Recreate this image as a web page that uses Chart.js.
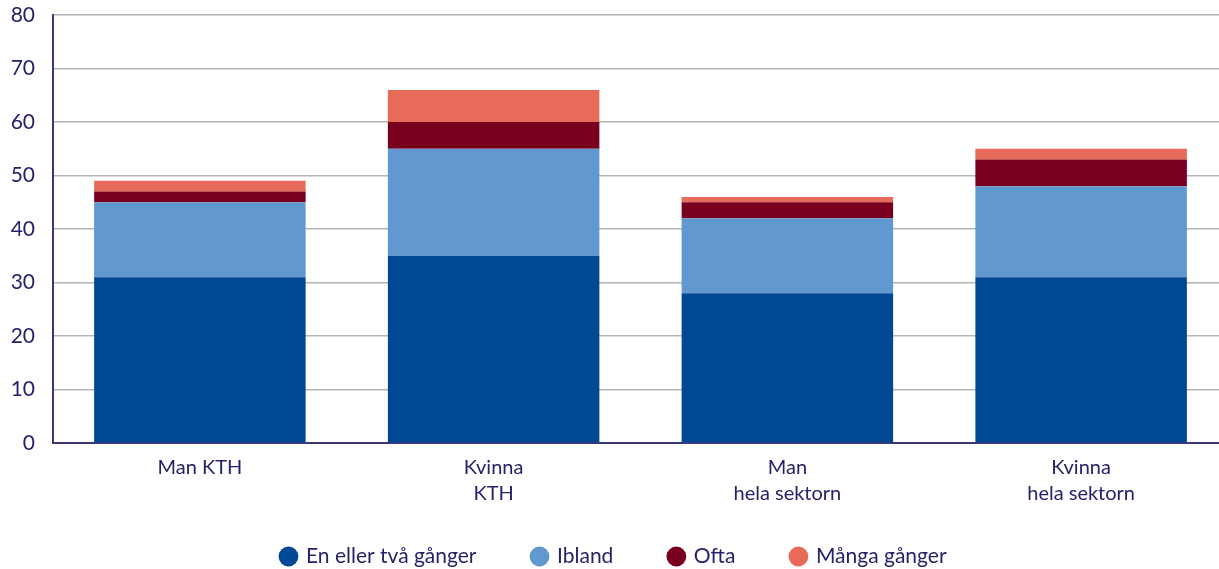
<!DOCTYPE html>
<html>
<head>
<meta charset="utf-8">
<script src="https://cdn.jsdelivr.net/npm/chart.js@4.4.1/dist/chart.umd.min.js"></script>
<style>
  html, body { margin: 0; padding: 0; background: #fff; overflow: hidden; }
  #wrap { width: 1228px; height: 569px; position: relative; }
</style>
</head>
<body>
<div id="wrap"><canvas id="chart"></canvas></div>
<script>
// Data
const categories = ["Man KTH", ["Kvinna", "KTH"], ["Man", "hela sektorn"], ["Kvinna", "hela sektorn"]];
const enEllerTva = [31, 35, 28, 31];
const ibland = [14, 20, 14, 17];
const ofta = [2, 5, 3, 5];
const mangaGanger = [2, 6, 1, 2];
const yTicks = [0, 10, 20, 30, 40, 50, 60, 70, 80];

const navy = "#25236b";
const fontFamily = "Lato, 'Open Sans', sans-serif";
const LEGEND_PAD = 56;
const LEGEND_HEIGHT = 79;

function makeSet(label, data, color) {
  return {
    label: label,
    data: data,
    backgroundColor: color,
    borderWidth: 0,
    categoryPercentage: 0.72,
    barPercentage: 1.0,
  };
}

// keep the wide item spacing without the tall legend box
const legendHeightFix = {
  id: "legendHeightFix",
  beforeInit(chart) {
    const origFit = chart.legend.fit;
    chart.legend.fit = function () {
      origFit.bind(chart.legend)();
      this.height = LEGEND_HEIGHT;
    };
  },
};

const ctx = document.getElementById("chart").getContext("2d");
new Chart(ctx, {
  type: "bar",
  data: {
    labels: categories,
    datasets: [
      makeSet("En eller två gånger", enEllerTva, "#004893"),
      makeSet("Ibland", ibland, "#6298d0"),
      makeSet("Ofta", ofta, "#78001e"),
      makeSet("Många gånger", mangaGanger, "#e86b5a"),
    ],
  },
  plugins: [legendHeightFix],
  options: {
    responsive: true,
    maintainAspectRatio: false,
    animation: false,
    layout: { padding: 0 },
    plugins: {
      tooltip: { enabled: false },
      legend: {
        position: "bottom",
        labels: {
          usePointStyle: true,
          pointStyle: "circle",
          boxWidth: 14,
          boxHeight: 14,
          padding: LEGEND_PAD,
          color: navy,
          font: { family: fontFamily, size: 21 },
        },
      },
    },
    scales: {
      x: {
        stacked: true,
        grid: { display: false, drawTicks: false },
        border: { display: true, color: "#3a3878", width: 2 },
        ticks: {
          color: navy,
          padding: 12,
          font: { family: fontFamily, size: 20, lineHeight: 1.3 },
          maxRotation: 0,
        },
        afterFit: (scale) => {
          scale.height = 569 - LEGEND_HEIGHT - 443;
          // two-line labels reach below the axis box, don't clip them
          scale._computeLabelArea = () => undefined;
        },
      },
      y: {
        stacked: true,
        min: 0,
        max: 80,
        afterBuildTicks: (scale) => { scale.ticks = yTicks.map((v) => ({ value: v })); },
        grid: { color: "#b5b5b5", lineWidth: 1.5, drawTicks: false },
        border: { display: true, color: "#3a3878", width: 2 },
        ticks: {
          color: navy,
          padding: 18,
          font: { family: fontFamily, size: 21 },
        },
        afterFit: (scale) => {
          scale.width = 53;
          scale.paddingTop = 15;
        },
      },
    },
  },
});
</script>
</body>
</html>
